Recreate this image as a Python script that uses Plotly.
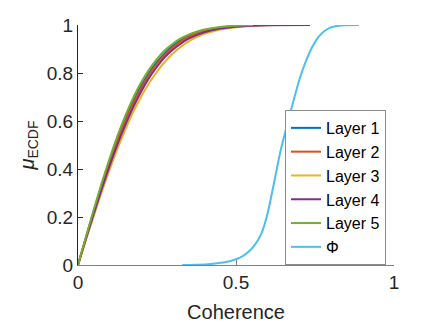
import plotly.graph_objects as go

coh_x = [0, 0.025, 0.05, 0.075, 0.1, 0.125, 0.15, 0.175, 0.2, 0.225, 0.25,
         0.275, 0.3, 0.325, 0.35, 0.375, 0.4, 0.45, 0.5, 0.55]

layer1_x = coh_x + [0.56]
layer1_y = [0, 0.114, 0.225, 0.332, 0.432, 0.525, 0.608, 0.683, 0.747, 0.801, 0.846,
            0.883, 0.913, 0.936, 0.954, 0.968, 0.978, 0.990, 0.996, 0.998, 1.0]

layer2_x = coh_x + [0.57]
layer2_y = [0, 0.111, 0.220, 0.325, 0.424, 0.515, 0.598, 0.672, 0.736, 0.791, 0.838,
            0.875, 0.906, 0.931, 0.950, 0.964, 0.975, 0.988, 0.995, 0.998, 1.0]

layer3_x = coh_x + [0.6, 0.62]
layer3_y = [0, 0.104, 0.205, 0.304, 0.397, 0.485, 0.565, 0.638, 0.702, 0.758, 0.806,
            0.847, 0.881, 0.909, 0.932, 0.950, 0.963, 0.981, 0.991, 0.996, 0.999, 1.0]

layer4_x = coh_x + [0.6, 0.734]
layer4_y = [0, 0.108, 0.214, 0.316, 0.413, 0.503, 0.584, 0.658, 0.723, 0.779, 0.826,
            0.866, 0.897, 0.922, 0.943, 0.958, 0.970, 0.985, 0.993, 0.997, 0.999, 1.0]

layer5_x = coh_x[:-1] + [0.554]
layer5_y = [0, 0.117, 0.231, 0.341, 0.444, 0.538, 0.622, 0.697, 0.761, 0.814, 0.859,
            0.895, 0.922, 0.944, 0.960, 0.972, 0.981, 0.992, 0.997, 1.0]

phi_x = [0.33, 0.38, 0.42, 0.45, 0.48, 0.5, 0.52, 0.54, 0.56, 0.58, 0.60, 0.62,
         0.64, 0.66, 0.68, 0.70, 0.72, 0.74, 0.76, 0.78, 0.80, 0.82, 0.845, 0.889]
phi_y = [0, 0.001, 0.004, 0.009, 0.016, 0.024, 0.036, 0.055, 0.085, 0.13, 0.215, 0.34,
         0.47, 0.575, 0.675, 0.77, 0.845, 0.905, 0.948, 0.975, 0.99, 0.996, 0.999, 1.0]

series = [
    ("Layer 1", layer1_x, layer1_y, "#0072BD"),
    ("Layer 2", layer2_x, layer2_y, "#D95319"),
    ("Layer 3", layer3_x, layer3_y, "#EDB120"),
    ("Layer 4", layer4_x, layer4_y, "#7E2F8E"),
    ("Layer 5", layer5_x, layer5_y, "#77AC30"),
    ("Φ", phi_x, phi_y, "#4DBEEE"),
]

fig = go.Figure()
for name, xs, ys, color in series:
    fig.add_trace(go.Scatter(
        x=xs, y=ys, mode="lines", name=name,
        line={"color": color, "width": 2, "shape": "spline", "smoothing": 0.6},
    ))

# page body adds an 8px offset, so the figure is sized to 428x319
fig.update_layout(
    width=428,
    height=319,
    template="plotly_white",
    paper_bgcolor="#ffffff",
    plot_bgcolor="#ffffff",
    margin={"l": 70, "r": 42, "t": 17, "b": 62},
    font={"family": "Arial, Liberation Sans, sans-serif", "color": "#262626", "size": 19},
    showlegend=True,
    legend={
        "x": 0.655, "y": 0.646, "xanchor": "left", "yanchor": "top",
        "bgcolor": "#ffffff", "bordercolor": "#8c8c8c", "borderwidth": 1,
        "font": {"size": 16, "color": "#000000"},
        "tracegroupgap": 0, "itemwidth": 30,
    },
)

fig.update_xaxes(
    range=[0, 1], tickvals=[0, 0.5, 1], ticktext=["0", "0.5", "1"],
    showgrid=False, zeroline=False, showline=True, linecolor="#808080", linewidth=1,
    ticks="inside", ticklen=5, tickcolor="#808080", automargin=False,
    tickfont={"size": 19},
    title={"text": "Coherence", "font": {"size": 20}, "standoff": 13},
)
fig.update_yaxes(
    range=[0, 1], tickvals=[0, 0.2, 0.4, 0.6, 0.8, 1],
    ticktext=["0", "0.2", "0.4", "0.6", "0.8", "1"],
    showgrid=False, zeroline=False, showline=True, linecolor="#262626", linewidth=1,
    ticks="inside", ticklen=5, tickcolor="#262626", automargin=False,
    tickfont={"size": 19},
    title={"text": "<i>μ</i><sub>ECDF</sub>", "font": {"size": 20}, "standoff": 6},
)

fig.write_html("out.html")
